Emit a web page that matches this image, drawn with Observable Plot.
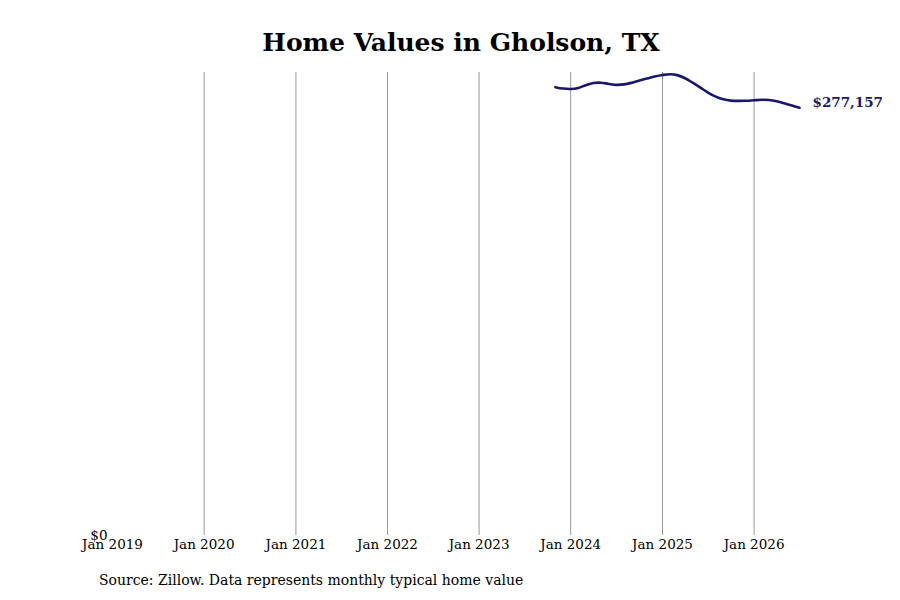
<!DOCTYPE html>
<html>
<head>
<meta charset="utf-8">
<script src="https://cdn.jsdelivr.net/npm/d3@7"></script>
<script src="https://cdn.jsdelivr.net/npm/@observablehq/plot@0.6"></script>
<style>
  body { margin: 0; background: #fff; font-family: "DejaVu Serif", serif; }
  #wrap { width: 900px; height: 600px; position: relative; overflow: hidden; }
  #title { height: 70px; box-sizing: border-box; padding-top: 28px; padding-left: 22px; text-align: center; font-size: 25px; font-weight: bold; line-height: 30px; color: #000; }
  #caption { position: absolute; left: 99px; top: 572px; font-size: 14px; color: #000; }
</style>
</head>
<body>
<div id="wrap">
  <div id="title">Home Values in Gholson, TX</div>
  <div id="chart"></div>
  <div id="caption">Source: Zillow. Data represents monthly typical home value</div>
</div>
<script>
const months = [
  "2023-11","2023-12","2024-01","2024-02","2024-03","2024-04","2024-05","2024-06","2024-07","2024-08","2024-09","2024-10","2024-11","2024-12",
  "2025-01","2025-02","2025-03","2025-04","2025-05","2025-06","2025-07","2025-08","2025-09","2025-10","2025-11","2025-12",
  "2026-01","2026-02","2026-03","2026-04","2026-05","2026-06","2026-07"
];
const values = [
  290500, 289600, 289300, 290000, 291800, 293200, 293400, 292600, 292000, 292300, 293400, 294800, 296100, 297400,
  298400, 298900, 298300, 296300, 293400, 290200, 287000, 284400, 282600, 281800, 281600, 281700,
  282000, 282300, 282200, 281400, 280000, 278600, 277157
];
const tickYears = ["2019-01","2020-01","2021-01","2022-01","2023-01","2024-01","2025-01","2026-01"];
const gridYears = ["2020-01","2021-01","2022-01","2023-01","2024-01","2025-01","2026-01"];
const xStart = "2019-01";
const xEnd = "2026-07";
const yMax = 300000;

const parse = d3.utcParse("%Y-%m");
const data = months.map((m, i) => ({date: parse(m), value: values[i]}));
const last = data[data.length - 1];
const fmtMoney = d3.format("$,.0f");

const chart = Plot.plot({
  width: 900,
  height: 500,
  marginTop: 2,
  marginBottom: 35,
  marginLeft: 112,
  marginRight: 101,
  style: {fontFamily: "DejaVu Serif", fontSize: "13.5px", color: "#000", background: "#fff"},
  x: {type: "utc", domain: [parse(xStart), parse(xEnd)], ticks: tickYears.map(parse), tickFormat: d3.utcFormat("Jan %Y"), tickSize: 0, tickPadding: 4, label: null},
  y: {domain: [0, yMax], ticks: [0], tickFormat: d => fmtMoney(d), tickSize: 0, tickPadding: 5, label: null},
  marks: [
    Plot.ruleX(gridYears.map(parse), {stroke: "#999", strokeWidth: 1}),
    Plot.line(data, {x: "date", y: "value", stroke: "#1a186b", strokeWidth: 2.6, curve: "catmull-rom"}),
    Plot.text([last], {x: "date", y: "value", text: d => fmtMoney(d.value), dx: 13, dy: -5, textAnchor: "start", fill: "#1a186b", fontWeight: "bold", fontSize: 13.5})
  ]
});
document.getElementById("chart").appendChild(chart);
</script>
</body>
</html>
